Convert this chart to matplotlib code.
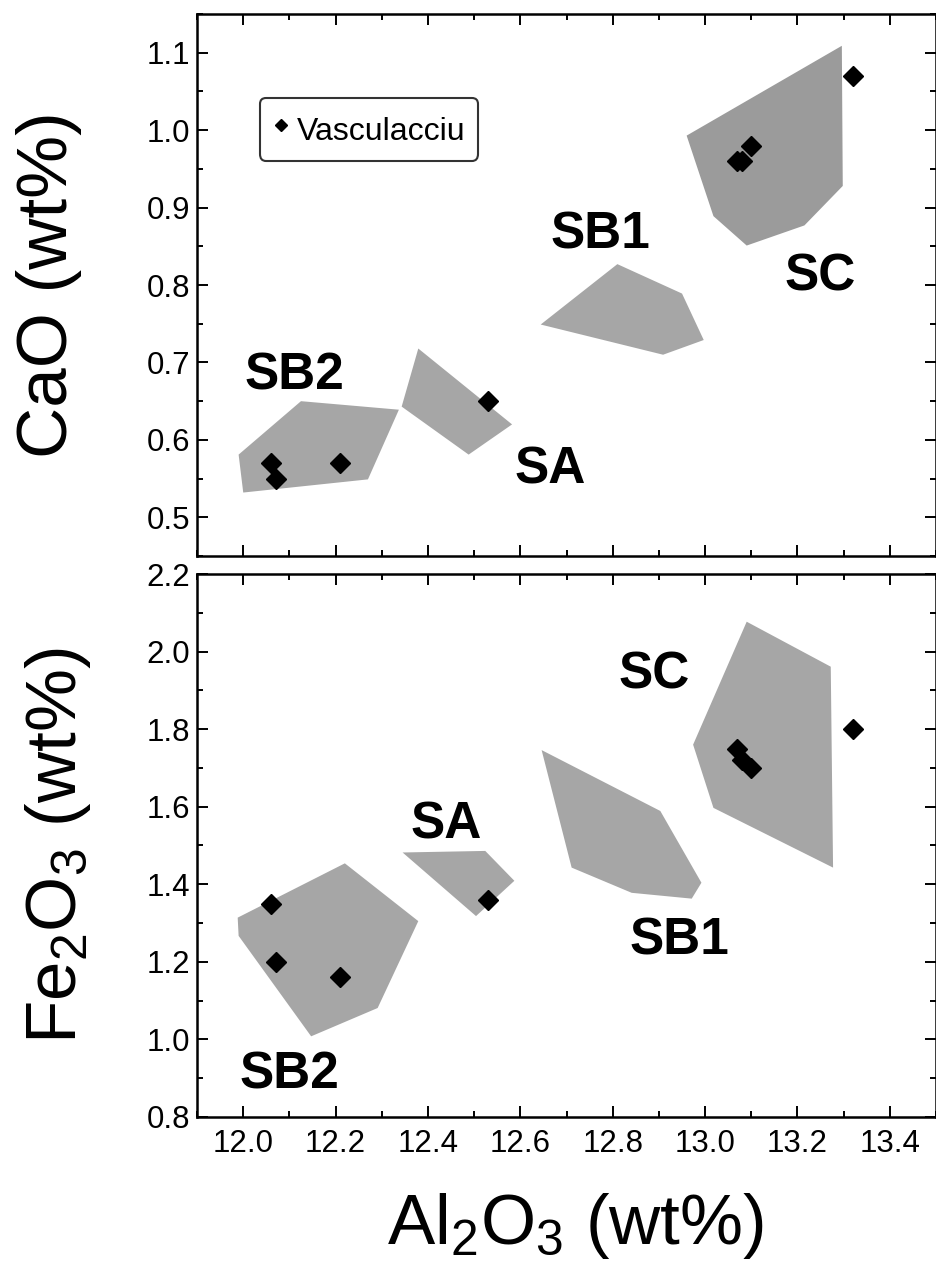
import matplotlib
matplotlib.use("Agg")
import matplotlib.pyplot as plt
from matplotlib.patches import Polygon
from matplotlib.ticker import MultipleLocator

plt.rcParams["font.family"] = ["Liberation Sans", "DejaVu Sans"]
plt.rcParams["mathtext.fontset"] = "custom"
plt.rcParams["mathtext.rm"] = "Liberation Sans"
plt.rcParams["mathtext.default"] = "rm"

# Vasculacciu samples
al2o3 = [12.06, 12.07, 12.21, 12.53, 13.07, 13.08, 13.10, 13.32]
cao = [0.57, 0.55, 0.57, 0.65, 0.96, 0.96, 0.98, 1.07]
fe2o3 = [1.35, 1.20, 1.16, 1.36, 1.75, 1.72, 1.70, 1.80]

# reference fields, CaO vs Al2O3
cao_fields = {
    "SB2": [(11.99, 0.581), (12.125, 0.650), (12.337, 0.639), (12.27, 0.549), (12.0, 0.532)],
    "SA": [(12.379, 0.718), (12.582, 0.620), (12.488, 0.581), (12.343, 0.643)],
    "SB1": [(12.644, 0.749), (12.81, 0.827), (12.95, 0.789), (12.997, 0.729), (12.909, 0.710)],
    "SC": [(12.96, 0.993), (13.296, 1.109), (13.298, 0.928), (13.215, 0.877),
           (13.09, 0.851), (13.018, 0.889)],
}
cao_labels = {"SB2": (12.11, 0.69), "SA": (12.665, 0.568),
              "SB1": (12.774, 0.872), "SC": (13.25, 0.818)}

# reference fields, Fe2O3 vs Al2O3
fe_fields = {
    "SB2": [(11.988, 1.314), (12.22, 1.454), (12.379, 1.305), (12.291, 1.081),
            (12.147, 1.008), (11.99, 1.267)],
    "SA": [(12.345, 1.482), (12.524, 1.486), (12.587, 1.409), (12.504, 1.318)],
    "SB1": [(12.646, 1.746), (12.903, 1.589), (12.992, 1.404), (12.971, 1.363),
            (12.841, 1.378), (12.711, 1.443)],
    "SC": [(13.09, 2.077), (13.272, 1.961), (13.277, 1.443), (13.018, 1.597),
           (12.974, 1.76)],
}
fe_labels = {"SB2": (12.10, 0.922), "SA": (12.44, 1.567),
             "SB1": (12.945, 1.267), "SC": (12.89, 1.953)}

fig = plt.figure(figsize=(9.37, 12.66), dpi=100)
ax1 = fig.add_axes([0.2103, 0.5608, 0.7887, 0.4281])
ax2 = fig.add_axes([0.2103, 0.1177, 0.7887, 0.4289])


def style(ax, ymaj, ymin):
    ax.set_xlim(11.9, 13.5)
    ax.xaxis.set_major_locator(MultipleLocator(0.2))
    ax.xaxis.set_minor_locator(MultipleLocator(0.1))
    ax.yaxis.set_major_locator(MultipleLocator(ymaj))
    ax.yaxis.set_minor_locator(MultipleLocator(ymin))
    ax.tick_params(which="both", direction="in", top=True, right=True,
                   width=1.4, labelsize=22.5)
    ax.tick_params(axis="y", pad=5)
    ax.tick_params(axis="x", pad=9)
    ax.tick_params(which="major", length=8)
    ax.tick_params(which="minor", length=4.5)
    for s in ax.spines.values():
        s.set_linewidth(1.8)


def draw(ax, fields, labels, yvals, dark=()):
    for name, pts in fields.items():
        fc = "#9b9b9b" if name in dark else "#a6a6a6"
        ax.add_patch(Polygon(pts, closed=True, facecolor=fc,
                             edgecolor="none", zorder=1))
    for name, (x, y) in labels.items():
        ax.text(x, y, name, fontsize=37, fontweight="bold", ha="center",
                va="center_baseline", zorder=3)
    ax.plot(al2o3, yvals, ls="none", marker="D", ms=10.5, color="black",
            zorder=4, label="Vasculacciu")


style(ax1, 0.1, 0.05)
ax1.set_ylim(0.45, 1.15)
ax1.set_yticks([0.5, 0.6, 0.7, 0.8, 0.9, 1.0, 1.1])
ax1.tick_params(labelbottom=False)
draw(ax1, cao_fields, cao_labels, cao, dark=("SC",))
leg = ax1.legend(loc="upper left", bbox_to_anchor=(0.085, 0.845), borderaxespad=0,
                 fontsize=23, markerscale=0.6, handlelength=0.5, handletextpad=0.25,
                 handleheight=1.4, borderpad=0.4, fancybox=True, frameon=True)
leg.get_frame().set_edgecolor("black")
leg.get_frame().set_linewidth(1.5)
ax1.set_ylabel("CaO (wt%)", fontsize=51, va="center")
ax1.yaxis.set_label_coords(-0.201, 0.5)

style(ax2, 0.2, 0.1)
ax2.set_ylim(0.8, 2.2)
draw(ax2, fe_fields, fe_labels, fe2o3)
ax2.set_ylabel("Fe$_2$O$_3$ (wt%)", fontsize=51, va="center")
ax2.yaxis.set_label_coords(-0.188, 0.5)
ax2.set_xlabel("Al$_2$O$_3$ (wt%)", fontsize=51, va="center")
ax2.xaxis.set_label_coords(0.512, -0.2)

fig.savefig("out.png", dpi=100)
